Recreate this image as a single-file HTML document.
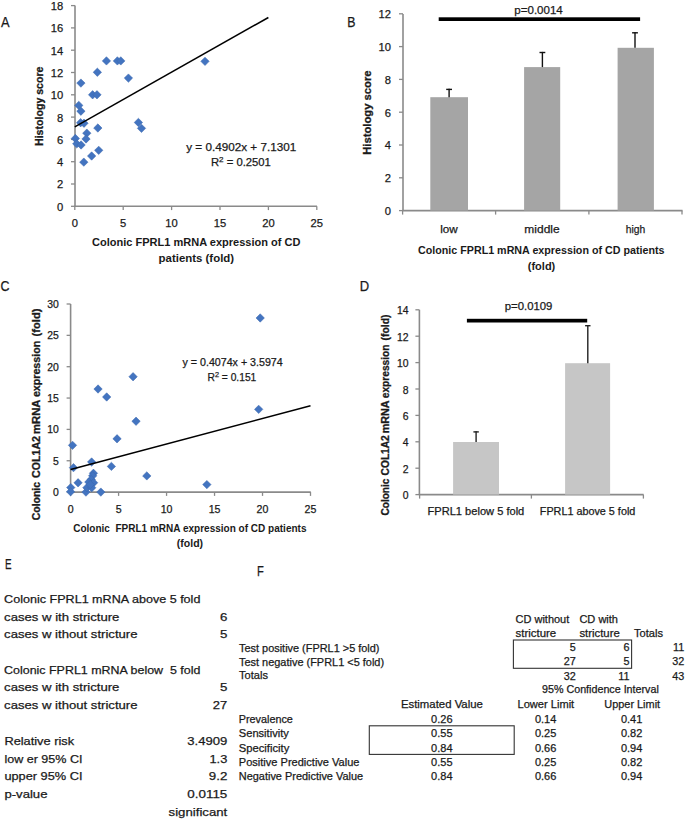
<!DOCTYPE html>
<html><head><meta charset="utf-8"><style>
html,body{margin:0;padding:0;background:#fff;width:685px;height:820px;overflow:hidden}
svg{display:block}
text{white-space:pre;font-family:"Liberation Sans", sans-serif;fill:#1a1a1a;stroke:#1a1a1a;stroke-width:0.25px}
text[font-weight="bold"]{stroke-width:0}
text.rot{stroke-width:0.3px}
</style></head><body>
<svg width="685" height="820" viewBox="0 0 685 820">
<rect width="685" height="820" fill="#fff"/>
<text x="1.00" y="26.50" font-size="15.0" textLength="8.60" lengthAdjust="spacingAndGlyphs">A</text>
<line x1="75.00" y1="5.40" x2="75.00" y2="206.30" stroke="#8a8a8a" stroke-width="1.6"/>
<line x1="71.00" y1="206.30" x2="75.00" y2="206.30" stroke="#8a8a8a" stroke-width="1.3"/>
<text x="63.30" y="210.70" font-size="11.2" text-anchor="end">0</text>
<line x1="71.00" y1="184.00" x2="75.00" y2="184.00" stroke="#8a8a8a" stroke-width="1.3"/>
<text x="63.30" y="188.40" font-size="11.2" text-anchor="end">2</text>
<line x1="71.00" y1="161.70" x2="75.00" y2="161.70" stroke="#8a8a8a" stroke-width="1.3"/>
<text x="63.30" y="166.10" font-size="11.2" text-anchor="end">4</text>
<line x1="71.00" y1="139.40" x2="75.00" y2="139.40" stroke="#8a8a8a" stroke-width="1.3"/>
<text x="63.30" y="143.80" font-size="11.2" text-anchor="end">6</text>
<line x1="71.00" y1="117.10" x2="75.00" y2="117.10" stroke="#8a8a8a" stroke-width="1.3"/>
<text x="63.30" y="121.50" font-size="11.2" text-anchor="end">8</text>
<line x1="71.00" y1="94.80" x2="75.00" y2="94.80" stroke="#8a8a8a" stroke-width="1.3"/>
<text x="63.30" y="99.20" font-size="11.2" text-anchor="end">10</text>
<line x1="71.00" y1="72.50" x2="75.00" y2="72.50" stroke="#8a8a8a" stroke-width="1.3"/>
<text x="63.30" y="76.90" font-size="11.2" text-anchor="end">12</text>
<line x1="71.00" y1="50.20" x2="75.00" y2="50.20" stroke="#8a8a8a" stroke-width="1.3"/>
<text x="63.30" y="54.60" font-size="11.2" text-anchor="end">14</text>
<line x1="71.00" y1="27.90" x2="75.00" y2="27.90" stroke="#8a8a8a" stroke-width="1.3"/>
<text x="63.30" y="32.30" font-size="11.2" text-anchor="end">16</text>
<line x1="71.00" y1="5.60" x2="75.00" y2="5.60" stroke="#8a8a8a" stroke-width="1.3"/>
<text x="63.30" y="10.00" font-size="11.2" text-anchor="end">18</text>
<line x1="74.20" y1="206.30" x2="317.00" y2="206.30" stroke="#8a8a8a" stroke-width="1.6"/>
<line x1="74.80" y1="206.30" x2="74.80" y2="210.10" stroke="#8a8a8a" stroke-width="1.3"/>
<text x="74.80" y="227.30" font-size="11.2" text-anchor="middle">0</text>
<line x1="123.20" y1="206.30" x2="123.20" y2="210.10" stroke="#8a8a8a" stroke-width="1.3"/>
<text x="123.20" y="227.30" font-size="11.2" text-anchor="middle">5</text>
<line x1="171.60" y1="206.30" x2="171.60" y2="210.10" stroke="#8a8a8a" stroke-width="1.3"/>
<text x="171.60" y="227.30" font-size="11.2" text-anchor="middle">10</text>
<line x1="220.00" y1="206.30" x2="220.00" y2="210.10" stroke="#8a8a8a" stroke-width="1.3"/>
<text x="220.00" y="227.30" font-size="11.2" text-anchor="middle">15</text>
<line x1="268.40" y1="206.30" x2="268.40" y2="210.10" stroke="#8a8a8a" stroke-width="1.3"/>
<text x="268.40" y="227.30" font-size="11.2" text-anchor="middle">20</text>
<line x1="316.80" y1="206.30" x2="316.80" y2="210.10" stroke="#8a8a8a" stroke-width="1.3"/>
<text x="316.80" y="227.30" font-size="11.2" text-anchor="middle">25</text>
<text x="92.00" y="246.30" font-size="10.5" font-weight="bold" textLength="208.50" lengthAdjust="spacingAndGlyphs">Colonic FPRL1 mRNA expression of CD</text>
<text x="158.60" y="262.00" font-size="10.5" font-weight="bold" textLength="75.50" lengthAdjust="spacingAndGlyphs">patients (fold)</text>
<text class="rot" transform="translate(42.50,146.00) rotate(-90)" x="0" y="0" font-size="11.1" font-weight="bold" textLength="79.50" lengthAdjust="spacingAndGlyphs">Histology score</text>
<text x="186.20" y="150.60" font-size="11.2" textLength="110.00" lengthAdjust="spacingAndGlyphs">y = 0.4902x + 7.1301</text>
<text x="210.90" y="165.70" font-size="11.2" textLength="60.00" lengthAdjust="spacingAndGlyphs">R<tspan font-size="8" dy="-3.6">2</tspan><tspan dy="3.6"> = 0.2501</tspan></text>
<g fill="#4374c0" stroke="#3a67ad" stroke-width="0.5">
<path d="M106.45 56.70L110.65 60.90L106.45 65.10L102.25 60.90Z"/>
<path d="M117.39 56.70L121.59 60.90L117.39 65.10L113.19 60.90Z"/>
<path d="M120.78 56.70L124.98 60.90L120.78 65.10L116.58 60.90Z"/>
<path d="M205.00 57.15L209.20 61.35L205.00 65.55L200.80 61.35Z"/>
<path d="M97.35 68.08L101.55 72.28L97.35 76.48L93.15 72.28Z"/>
<path d="M80.90 78.89L85.10 83.09L80.90 87.29L76.70 83.09Z"/>
<path d="M128.43 73.88L132.63 78.08L128.43 82.28L124.23 78.08Z"/>
<path d="M92.61 90.60L96.81 94.80L92.61 99.00L88.41 94.80Z"/>
<path d="M96.97 90.60L101.17 94.80L96.97 99.00L92.77 94.80Z"/>
<path d="M78.77 101.19L82.97 105.39L78.77 109.59L74.57 105.39Z"/>
<path d="M80.90 106.99L85.10 111.19L80.90 115.39L76.70 111.19Z"/>
<path d="M80.61 118.48L84.81 122.68L80.61 126.88L76.41 122.68Z"/>
<path d="M84.00 119.03L88.20 123.23L84.00 127.43L79.80 123.23Z"/>
<path d="M138.40 118.25L142.60 122.45L138.40 126.65L134.20 122.45Z"/>
<path d="M141.50 124.16L145.70 128.36L141.50 132.56L137.30 128.36Z"/>
<path d="M97.84 123.83L102.04 128.03L97.84 132.23L93.64 128.03Z"/>
<path d="M86.80 128.96L91.00 133.16L86.80 137.36L82.60 133.16Z"/>
<path d="M86.03 134.75L90.23 138.95L86.03 143.15L81.83 138.95Z"/>
<path d="M75.38 134.31L79.58 138.51L75.38 142.71L71.18 138.51Z"/>
<path d="M76.74 139.66L80.94 143.86L76.74 148.06L72.54 143.86Z"/>
<path d="M81.09 140.78L85.29 144.98L81.09 149.18L76.89 144.98Z"/>
<path d="M98.71 146.13L102.91 150.33L98.71 154.53L94.51 150.33Z"/>
<path d="M91.64 151.81L95.84 156.01L91.64 160.21L87.44 156.01Z"/>
<path d="M83.80 157.95L88.00 162.15L83.80 166.35L79.60 162.15Z"/>
</g>
<line x1="74.80" y1="126.80" x2="268.40" y2="17.48" stroke="#000" stroke-width="1.5"/>
<text x="347.30" y="26.60" font-size="14.5" textLength="8.20" lengthAdjust="spacingAndGlyphs">B</text>
<line x1="403.00" y1="13.90" x2="403.00" y2="210.60" stroke="#8a8a8a" stroke-width="1.6"/>
<line x1="399.00" y1="210.60" x2="403.00" y2="210.60" stroke="#8a8a8a" stroke-width="1.3"/>
<text x="391.00" y="215.00" font-size="11.2" text-anchor="end">0</text>
<line x1="399.00" y1="177.80" x2="403.00" y2="177.80" stroke="#8a8a8a" stroke-width="1.3"/>
<text x="391.00" y="182.20" font-size="11.2" text-anchor="end">2</text>
<line x1="399.00" y1="145.00" x2="403.00" y2="145.00" stroke="#8a8a8a" stroke-width="1.3"/>
<text x="391.00" y="149.40" font-size="11.2" text-anchor="end">4</text>
<line x1="399.00" y1="112.20" x2="403.00" y2="112.20" stroke="#8a8a8a" stroke-width="1.3"/>
<text x="391.00" y="116.60" font-size="11.2" text-anchor="end">6</text>
<line x1="399.00" y1="79.40" x2="403.00" y2="79.40" stroke="#8a8a8a" stroke-width="1.3"/>
<text x="391.00" y="83.80" font-size="11.2" text-anchor="end">8</text>
<line x1="399.00" y1="46.60" x2="403.00" y2="46.60" stroke="#8a8a8a" stroke-width="1.3"/>
<text x="391.00" y="51.00" font-size="11.2" text-anchor="end">10</text>
<line x1="399.00" y1="13.80" x2="403.00" y2="13.80" stroke="#8a8a8a" stroke-width="1.3"/>
<text x="391.00" y="18.20" font-size="11.2" text-anchor="end">12</text>
<line x1="402.40" y1="210.60" x2="682.50" y2="210.60" stroke="#8a8a8a" stroke-width="1.6"/>
<line x1="402.60" y1="210.60" x2="402.60" y2="214.60" stroke="#8a8a8a" stroke-width="1.3"/>
<line x1="495.60" y1="210.60" x2="495.60" y2="214.60" stroke="#8a8a8a" stroke-width="1.3"/>
<line x1="588.90" y1="210.60" x2="588.90" y2="214.60" stroke="#8a8a8a" stroke-width="1.3"/>
<line x1="682.00" y1="210.60" x2="682.00" y2="214.60" stroke="#8a8a8a" stroke-width="1.3"/>
<rect x="430.30" y="97.20" width="37.70" height="113.40" fill="#a5a5a5"/>
<line x1="449.10" y1="88.80" x2="449.10" y2="97.20" stroke="#111" stroke-width="1.4"/>
<line x1="446.20" y1="89.40" x2="452.00" y2="89.40" stroke="#111" stroke-width="1.4"/>
<rect x="524.10" y="67.10" width="36.10" height="143.50" fill="#a5a5a5"/>
<line x1="542.40" y1="51.90" x2="542.40" y2="67.10" stroke="#111" stroke-width="1.4"/>
<line x1="539.50" y1="52.50" x2="545.30" y2="52.50" stroke="#111" stroke-width="1.4"/>
<rect x="617.60" y="47.80" width="36.30" height="162.80" fill="#a5a5a5"/>
<line x1="635.00" y1="32.20" x2="635.00" y2="47.80" stroke="#111" stroke-width="1.4"/>
<line x1="632.10" y1="32.80" x2="637.90" y2="32.80" stroke="#111" stroke-width="1.4"/>
<rect x="438.70" y="17.30" width="201.40" height="3.70" fill="#000"/>
<text x="514.30" y="14.40" font-size="11.2" textLength="48.50" lengthAdjust="spacingAndGlyphs">p=0.0014</text>
<text x="449.00" y="232.50" font-size="11.2" text-anchor="middle" textLength="17.50" lengthAdjust="spacingAndGlyphs">low</text>
<text x="542.00" y="232.50" font-size="11.2" text-anchor="middle" textLength="35.30" lengthAdjust="spacingAndGlyphs">middle</text>
<text x="635.50" y="232.50" font-size="11.2" text-anchor="middle" textLength="19.50" lengthAdjust="spacingAndGlyphs">high</text>
<text x="418.00" y="253.80" font-size="10.5" font-weight="bold" textLength="246.50" lengthAdjust="spacingAndGlyphs">Colonic FPRL1 mRNA expression of CD patients</text>
<text x="527.80" y="269.60" font-size="10.5" font-weight="bold" textLength="27.50" lengthAdjust="spacingAndGlyphs">(fold)</text>
<text class="rot" transform="translate(370.60,154.80) rotate(-90)" x="0" y="0" font-size="10.8" font-weight="bold" textLength="84.40" lengthAdjust="spacingAndGlyphs">Histology score</text>
<text x="0.50" y="290.80" font-size="13.8" textLength="9.00" lengthAdjust="spacingAndGlyphs">C</text>
<line x1="70.60" y1="304.00" x2="70.60" y2="492.10" stroke="#8a8a8a" stroke-width="1.6"/>
<line x1="66.60" y1="492.10" x2="70.60" y2="492.10" stroke="#8a8a8a" stroke-width="1.3"/>
<text x="58.90" y="495.90" font-size="10.4" text-anchor="end">0</text>
<line x1="66.60" y1="460.75" x2="70.60" y2="460.75" stroke="#8a8a8a" stroke-width="1.3"/>
<text x="58.90" y="464.55" font-size="10.4" text-anchor="end">5</text>
<line x1="66.60" y1="429.40" x2="70.60" y2="429.40" stroke="#8a8a8a" stroke-width="1.3"/>
<text x="58.90" y="433.20" font-size="10.4" text-anchor="end">10</text>
<line x1="66.60" y1="398.05" x2="70.60" y2="398.05" stroke="#8a8a8a" stroke-width="1.3"/>
<text x="58.90" y="401.85" font-size="10.4" text-anchor="end">15</text>
<line x1="66.60" y1="366.70" x2="70.60" y2="366.70" stroke="#8a8a8a" stroke-width="1.3"/>
<text x="58.90" y="370.50" font-size="10.4" text-anchor="end">20</text>
<line x1="66.60" y1="335.35" x2="70.60" y2="335.35" stroke="#8a8a8a" stroke-width="1.3"/>
<text x="58.90" y="339.15" font-size="10.4" text-anchor="end">25</text>
<line x1="66.60" y1="304.00" x2="70.60" y2="304.00" stroke="#8a8a8a" stroke-width="1.3"/>
<text x="58.90" y="307.80" font-size="10.4" text-anchor="end">30</text>
<line x1="70.00" y1="492.10" x2="310.80" y2="492.10" stroke="#8a8a8a" stroke-width="1.6"/>
<line x1="70.60" y1="492.10" x2="70.60" y2="495.90" stroke="#8a8a8a" stroke-width="1.3"/>
<text x="70.60" y="512.80" font-size="10.6" text-anchor="middle">0</text>
<line x1="118.58" y1="492.10" x2="118.58" y2="495.90" stroke="#8a8a8a" stroke-width="1.3"/>
<text x="118.58" y="512.80" font-size="10.6" text-anchor="middle">5</text>
<line x1="166.56" y1="492.10" x2="166.56" y2="495.90" stroke="#8a8a8a" stroke-width="1.3"/>
<text x="166.56" y="512.80" font-size="10.6" text-anchor="middle">10</text>
<line x1="214.54" y1="492.10" x2="214.54" y2="495.90" stroke="#8a8a8a" stroke-width="1.3"/>
<text x="214.54" y="512.80" font-size="10.6" text-anchor="middle">15</text>
<line x1="262.52" y1="492.10" x2="262.52" y2="495.90" stroke="#8a8a8a" stroke-width="1.3"/>
<text x="262.52" y="512.80" font-size="10.6" text-anchor="middle">20</text>
<line x1="310.50" y1="492.10" x2="310.50" y2="495.90" stroke="#8a8a8a" stroke-width="1.3"/>
<text x="310.50" y="512.80" font-size="10.6" text-anchor="middle">25</text>
<text x="182.50" y="365.80" font-size="10.6" textLength="100.20" lengthAdjust="spacingAndGlyphs">y = 0.4074x + 3.5974</text>
<text x="207.50" y="380.70" font-size="10.6" textLength="48.80" lengthAdjust="spacingAndGlyphs">R<tspan font-size="7.6" dy="-3.4">2</tspan><tspan dy="3.4"> = 0.151</tspan></text>
<text x="73.20" y="531.90" font-size="10.5" font-weight="bold" textLength="233.30" lengthAdjust="spacingAndGlyphs">Colonic  FPRL1 mRNA expression of CD patients</text>
<text x="176.80" y="546.60" font-size="10.5" font-weight="bold" textLength="26.30" lengthAdjust="spacingAndGlyphs">(fold)</text>
<text class="rot" transform="translate(40.40,520.30) rotate(-90)" x="0" y="0" font-size="10.5" font-weight="bold" textLength="38.40" lengthAdjust="spacingAndGlyphs">Colonic</text>
<text class="rot" transform="translate(40.40,478.00) rotate(-90)" x="0" y="0" font-size="10.5" font-weight="bold" textLength="42.00" lengthAdjust="spacingAndGlyphs">COL1A2</text>
<text class="rot" transform="translate(40.40,434.00) rotate(-90)" x="0" y="0" font-size="10.5" font-weight="bold" textLength="34.50" lengthAdjust="spacingAndGlyphs">mRNA</text>
<text class="rot" transform="translate(40.40,397.10) rotate(-90)" x="0" y="0" font-size="10.5" font-weight="bold" textLength="56.30" lengthAdjust="spacingAndGlyphs">expression</text>
<text class="rot" transform="translate(40.40,336.40) rotate(-90)" x="0" y="0" font-size="10.5" font-weight="bold" textLength="27.80" lengthAdjust="spacingAndGlyphs">(fold)</text>
<g fill="#4374c0" stroke="#3a67ad" stroke-width="0.5">
<path d="M260.22 313.78L264.42 317.98L260.22 322.18L256.02 317.98Z"/>
<path d="M133.07 372.53L137.27 376.73L133.07 380.93L128.87 376.73Z"/>
<path d="M98.04 384.82L102.24 389.02L98.04 393.22L93.84 389.02Z"/>
<path d="M106.68 392.78L110.88 396.98L106.68 401.18L102.48 396.98Z"/>
<path d="M258.68 405.14L262.88 409.34L258.68 413.54L254.48 409.34Z"/>
<path d="M136.04 417.05L140.24 421.25L136.04 425.45L131.84 421.25Z"/>
<path d="M117.04 434.61L121.24 438.81L117.04 443.00L112.84 438.81Z"/>
<path d="M72.52 441.13L76.72 445.33L72.52 449.53L68.32 445.33Z"/>
<path d="M91.62 457.80L95.82 462.00L91.62 466.20L87.42 462.00Z"/>
<path d="M73.48 463.45L77.68 467.65L73.48 471.85L69.28 467.65Z"/>
<path d="M111.38 462.19L115.58 466.39L111.38 470.59L107.18 466.39Z"/>
<path d="M146.79 471.72L150.99 475.92L146.79 480.12L142.59 475.92Z"/>
<path d="M78.08 478.62L82.28 482.82L78.08 487.02L73.88 482.82Z"/>
<path d="M70.79 483.39L74.99 487.59L70.79 491.79L66.59 487.59Z"/>
<path d="M70.60 487.52L74.80 491.72L70.60 495.92L66.40 491.72Z"/>
<path d="M85.95 487.90L90.15 492.10L85.95 496.30L81.75 492.10Z"/>
<path d="M100.83 487.90L105.03 492.10L100.83 496.30L96.63 492.10Z"/>
<path d="M93.44 469.09L97.64 473.29L93.44 477.49L89.24 473.29Z"/>
<path d="M92.67 471.60L96.87 475.80L92.67 480.00L88.47 475.80Z"/>
<path d="M91.23 475.36L95.43 479.56L91.23 483.76L87.03 479.56Z"/>
<path d="M88.83 477.87L93.03 482.07L88.83 486.27L84.63 482.07Z"/>
<path d="M93.63 478.50L97.83 482.70L93.63 486.90L89.43 482.70Z"/>
<path d="M86.91 483.51L91.11 487.71L86.91 491.91L82.71 487.71Z"/>
<path d="M91.71 483.51L95.91 487.71L91.71 491.91L87.51 487.71Z"/>
<path d="M90.27 480.38L94.47 484.58L90.27 488.78L86.07 484.58Z"/>
<path d="M206.86 480.38L211.06 484.58L206.86 488.78L202.66 484.58Z"/>
</g>
<line x1="70.60" y1="469.54" x2="310.50" y2="405.68" stroke="#000" stroke-width="1.5"/>
<text x="359.80" y="290.80" font-size="13.8" textLength="9.40" lengthAdjust="spacingAndGlyphs">D</text>
<line x1="419.40" y1="309.80" x2="419.40" y2="494.60" stroke="#8a8a8a" stroke-width="1.6"/>
<line x1="415.40" y1="494.60" x2="419.40" y2="494.60" stroke="#8a8a8a" stroke-width="1.3"/>
<text x="408.60" y="499.10" font-size="10.4" text-anchor="end">0</text>
<line x1="415.40" y1="468.20" x2="419.40" y2="468.20" stroke="#8a8a8a" stroke-width="1.3"/>
<text x="408.60" y="472.70" font-size="10.4" text-anchor="end">2</text>
<line x1="415.40" y1="441.80" x2="419.40" y2="441.80" stroke="#8a8a8a" stroke-width="1.3"/>
<text x="408.60" y="446.30" font-size="10.4" text-anchor="end">4</text>
<line x1="415.40" y1="415.40" x2="419.40" y2="415.40" stroke="#8a8a8a" stroke-width="1.3"/>
<text x="408.60" y="419.90" font-size="10.4" text-anchor="end">6</text>
<line x1="415.40" y1="389.00" x2="419.40" y2="389.00" stroke="#8a8a8a" stroke-width="1.3"/>
<text x="408.60" y="393.50" font-size="10.4" text-anchor="end">8</text>
<line x1="415.40" y1="362.60" x2="419.40" y2="362.60" stroke="#8a8a8a" stroke-width="1.3"/>
<text x="408.60" y="367.10" font-size="10.4" text-anchor="end">10</text>
<line x1="415.40" y1="336.20" x2="419.40" y2="336.20" stroke="#8a8a8a" stroke-width="1.3"/>
<text x="408.60" y="340.70" font-size="10.4" text-anchor="end">12</text>
<line x1="415.40" y1="309.80" x2="419.40" y2="309.80" stroke="#8a8a8a" stroke-width="1.3"/>
<text x="408.60" y="314.30" font-size="10.4" text-anchor="end">14</text>
<line x1="418.80" y1="494.60" x2="643.60" y2="494.60" stroke="#8a8a8a" stroke-width="1.6"/>
<line x1="419.60" y1="494.60" x2="419.60" y2="498.60" stroke="#8a8a8a" stroke-width="1.3"/>
<line x1="531.40" y1="494.60" x2="531.40" y2="498.60" stroke="#8a8a8a" stroke-width="1.3"/>
<line x1="643.40" y1="494.60" x2="643.40" y2="498.60" stroke="#8a8a8a" stroke-width="1.3"/>
<rect x="453.10" y="442.00" width="45.90" height="52.60" fill="#c6c6c6"/>
<line x1="476.10" y1="431.30" x2="476.10" y2="442.00" stroke="#222" stroke-width="1.4"/>
<line x1="473.40" y1="431.90" x2="478.80" y2="431.90" stroke="#222" stroke-width="1.4"/>
<rect x="565.10" y="363.20" width="45.00" height="131.40" fill="#c6c6c6"/>
<line x1="587.80" y1="325.10" x2="587.80" y2="363.20" stroke="#222" stroke-width="1.4"/>
<line x1="585.10" y1="325.70" x2="590.50" y2="325.70" stroke="#222" stroke-width="1.4"/>
<rect x="466.90" y="318.80" width="120.30" height="3.70" fill="#000"/>
<text x="504.80" y="310.00" font-size="10.6" textLength="47.60" lengthAdjust="spacingAndGlyphs">p=0.0109</text>
<text x="427.50" y="514.60" font-size="10.4" textLength="96.80" lengthAdjust="spacingAndGlyphs">FPRL1 below 5 fold</text>
<text x="539.80" y="514.60" font-size="10.4" textLength="95.50" lengthAdjust="spacingAndGlyphs">FPRL1 above 5 fold</text>
<text class="rot" transform="translate(389.30,515.50) rotate(-90)" x="0" y="0" font-size="10.5" font-weight="bold" textLength="36.90" lengthAdjust="spacingAndGlyphs">Colonic</text>
<text class="rot" transform="translate(389.30,475.40) rotate(-90)" x="0" y="0" font-size="10.5" font-weight="bold" textLength="40.20" lengthAdjust="spacingAndGlyphs">COL1A2</text>
<text class="rot" transform="translate(389.30,433.30) rotate(-90)" x="0" y="0" font-size="10.5" font-weight="bold" textLength="32.80" lengthAdjust="spacingAndGlyphs">mRNA</text>
<text class="rot" transform="translate(389.30,398.20) rotate(-90)" x="0" y="0" font-size="10.5" font-weight="bold" textLength="53.70" lengthAdjust="spacingAndGlyphs">expression</text>
<text class="rot" transform="translate(389.30,340.40) rotate(-90)" x="0" y="0" font-size="10.5" font-weight="bold" textLength="25.90" lengthAdjust="spacingAndGlyphs">(fold)</text>
<text x="5.00" y="569.10" font-size="14.0" textLength="6.60" lengthAdjust="spacingAndGlyphs">E</text>
<text x="4.10" y="603.20" font-size="11.4" textLength="196.30" lengthAdjust="spacingAndGlyphs">Colonic FPRL1 mRNA above 5 fold</text>
<text x="4.10" y="620.60" font-size="11.4" textLength="115.30" lengthAdjust="spacingAndGlyphs">cases w ith stricture</text>
<text x="4.10" y="638.10" font-size="11.4" textLength="133.40" lengthAdjust="spacingAndGlyphs">cases w ithout stricture</text>
<text x="4.10" y="673.50" font-size="11.4" textLength="196.30" lengthAdjust="spacingAndGlyphs">Colonic FPRL1 mRNA below  5 fold</text>
<text x="4.10" y="691.20" font-size="11.4" textLength="115.30" lengthAdjust="spacingAndGlyphs">cases w ith stricture</text>
<text x="4.10" y="708.80" font-size="11.4" textLength="133.40" lengthAdjust="spacingAndGlyphs">cases w ithout stricture</text>
<text x="4.40" y="744.90" font-size="11.4" textLength="69.70" lengthAdjust="spacingAndGlyphs">Relative risk</text>
<text x="4.40" y="762.70" font-size="11.4" textLength="78.10" lengthAdjust="spacingAndGlyphs">low er 95% CI</text>
<text x="4.40" y="780.40" font-size="11.4" textLength="78.10" lengthAdjust="spacingAndGlyphs">upper 95% CI</text>
<text x="4.40" y="798.20" font-size="11.4" textLength="43.10" lengthAdjust="spacingAndGlyphs">p-value</text>
<text x="219.90" y="620.60" font-size="11.4" textLength="7.40" lengthAdjust="spacingAndGlyphs">6</text>
<text x="219.90" y="638.10" font-size="11.4" textLength="7.40" lengthAdjust="spacingAndGlyphs">5</text>
<text x="219.90" y="691.20" font-size="11.4" textLength="7.40" lengthAdjust="spacingAndGlyphs">5</text>
<text x="212.70" y="708.80" font-size="11.4" textLength="14.40" lengthAdjust="spacingAndGlyphs">27</text>
<text x="187.30" y="744.90" font-size="11.4" textLength="40.00" lengthAdjust="spacingAndGlyphs">3.4909</text>
<text x="209.50" y="762.70" font-size="11.4" textLength="17.80" lengthAdjust="spacingAndGlyphs">1.3</text>
<text x="208.80" y="780.40" font-size="11.4" textLength="18.50" lengthAdjust="spacingAndGlyphs">9.2</text>
<text x="187.30" y="798.20" font-size="11.4" textLength="40.00" lengthAdjust="spacingAndGlyphs">0.0115</text>
<text x="168.60" y="815.90" font-size="11.4" textLength="58.70" lengthAdjust="spacingAndGlyphs">significant</text>
<text x="257.00" y="576.40" font-size="14.0" textLength="6.80" lengthAdjust="spacingAndGlyphs">F</text>
<text x="515.50" y="622.90" font-size="10.8" textLength="53.80" lengthAdjust="spacingAndGlyphs">CD without</text>
<text x="579.40" y="622.90" font-size="10.8" textLength="38.60" lengthAdjust="spacingAndGlyphs">CD with</text>
<text x="515.50" y="636.50" font-size="10.8" textLength="40.70" lengthAdjust="spacingAndGlyphs">stricture</text>
<text x="579.40" y="636.50" font-size="10.8" textLength="40.40" lengthAdjust="spacingAndGlyphs">stricture</text>
<text x="634.00" y="636.50" font-size="10.8" textLength="29.10" lengthAdjust="spacingAndGlyphs">Totals</text>
<text x="239.00" y="651.70" font-size="10.8" textLength="140.50" lengthAdjust="spacingAndGlyphs">Test positive (FPRL1 &gt;5 fold)</text>
<text x="239.00" y="665.70" font-size="10.8" textLength="145.10" lengthAdjust="spacingAndGlyphs">Test negative (FPRL1 &lt;5 fold)</text>
<text x="239.00" y="679.30" font-size="10.8" textLength="29.00" lengthAdjust="spacingAndGlyphs">Totals</text>
<text x="575.80" y="651.20" font-size="10.8" text-anchor="end">5</text>
<text x="629.40" y="651.20" font-size="10.8" text-anchor="end">6</text>
<text x="684.20" y="651.20" font-size="10.8" text-anchor="end">11</text>
<text x="575.80" y="665.40" font-size="10.8" text-anchor="end">27</text>
<text x="629.40" y="665.40" font-size="10.8" text-anchor="end">5</text>
<text x="684.20" y="665.40" font-size="10.8" text-anchor="end">32</text>
<text x="575.80" y="679.60" font-size="10.8" text-anchor="end">32</text>
<text x="629.40" y="679.60" font-size="10.8" text-anchor="end">11</text>
<text x="684.20" y="679.60" font-size="10.8" text-anchor="end">43</text>
<rect x="513.40" y="640.00" width="118.20" height="28.30" fill="none" stroke="#333" stroke-width="1.1"/>
<text x="542.00" y="693.40" font-size="10.8" textLength="116.80" lengthAdjust="spacingAndGlyphs">95% Confidence Interval</text>
<text x="400.90" y="708.00" font-size="10.8" textLength="82.00" lengthAdjust="spacingAndGlyphs">Estimated Value</text>
<text x="517.50" y="708.00" font-size="10.8" textLength="56.70" lengthAdjust="spacingAndGlyphs">Lower Limit</text>
<text x="604.30" y="708.00" font-size="10.8" textLength="55.80" lengthAdjust="spacingAndGlyphs">Upper Limit</text>
<text x="238.80" y="722.90" font-size="10.8" textLength="54.10" lengthAdjust="spacingAndGlyphs">Prevalence</text>
<text x="441.80" y="722.90" font-size="10.8" text-anchor="middle" textLength="21.40" lengthAdjust="spacingAndGlyphs">0.26</text>
<text x="545.60" y="722.90" font-size="10.8" text-anchor="middle" textLength="21.40" lengthAdjust="spacingAndGlyphs">0.14</text>
<text x="631.60" y="722.90" font-size="10.8" text-anchor="middle" textLength="21.40" lengthAdjust="spacingAndGlyphs">0.41</text>
<text x="238.80" y="737.20" font-size="10.8" textLength="50.00" lengthAdjust="spacingAndGlyphs">Sensitivity</text>
<text x="441.80" y="737.20" font-size="10.8" text-anchor="middle" textLength="21.40" lengthAdjust="spacingAndGlyphs">0.55</text>
<text x="545.60" y="737.20" font-size="10.8" text-anchor="middle" textLength="21.40" lengthAdjust="spacingAndGlyphs">0.25</text>
<text x="631.60" y="737.20" font-size="10.8" text-anchor="middle" textLength="21.40" lengthAdjust="spacingAndGlyphs">0.82</text>
<text x="238.80" y="751.60" font-size="10.8" textLength="50.50" lengthAdjust="spacingAndGlyphs">Specificity</text>
<text x="441.80" y="751.60" font-size="10.8" text-anchor="middle" textLength="21.40" lengthAdjust="spacingAndGlyphs">0.84</text>
<text x="545.60" y="751.60" font-size="10.8" text-anchor="middle" textLength="21.40" lengthAdjust="spacingAndGlyphs">0.66</text>
<text x="631.60" y="751.60" font-size="10.8" text-anchor="middle" textLength="21.40" lengthAdjust="spacingAndGlyphs">0.94</text>
<text x="238.80" y="766.30" font-size="10.8" textLength="120.70" lengthAdjust="spacingAndGlyphs">Positive Predictive Value</text>
<text x="441.80" y="766.30" font-size="10.8" text-anchor="middle" textLength="21.40" lengthAdjust="spacingAndGlyphs">0.55</text>
<text x="545.60" y="766.30" font-size="10.8" text-anchor="middle" textLength="21.40" lengthAdjust="spacingAndGlyphs">0.25</text>
<text x="631.60" y="766.30" font-size="10.8" text-anchor="middle" textLength="21.40" lengthAdjust="spacingAndGlyphs">0.82</text>
<text x="238.80" y="780.20" font-size="10.8" textLength="124.30" lengthAdjust="spacingAndGlyphs">Negative Predictive Value</text>
<text x="441.80" y="780.20" font-size="10.8" text-anchor="middle" textLength="21.40" lengthAdjust="spacingAndGlyphs">0.84</text>
<text x="545.60" y="780.20" font-size="10.8" text-anchor="middle" textLength="21.40" lengthAdjust="spacingAndGlyphs">0.66</text>
<text x="631.60" y="780.20" font-size="10.8" text-anchor="middle" textLength="21.40" lengthAdjust="spacingAndGlyphs">0.94</text>
<rect x="369.30" y="725.80" width="144.90" height="28.60" fill="none" stroke="#333" stroke-width="1.1"/>
</svg>
</body></html>
